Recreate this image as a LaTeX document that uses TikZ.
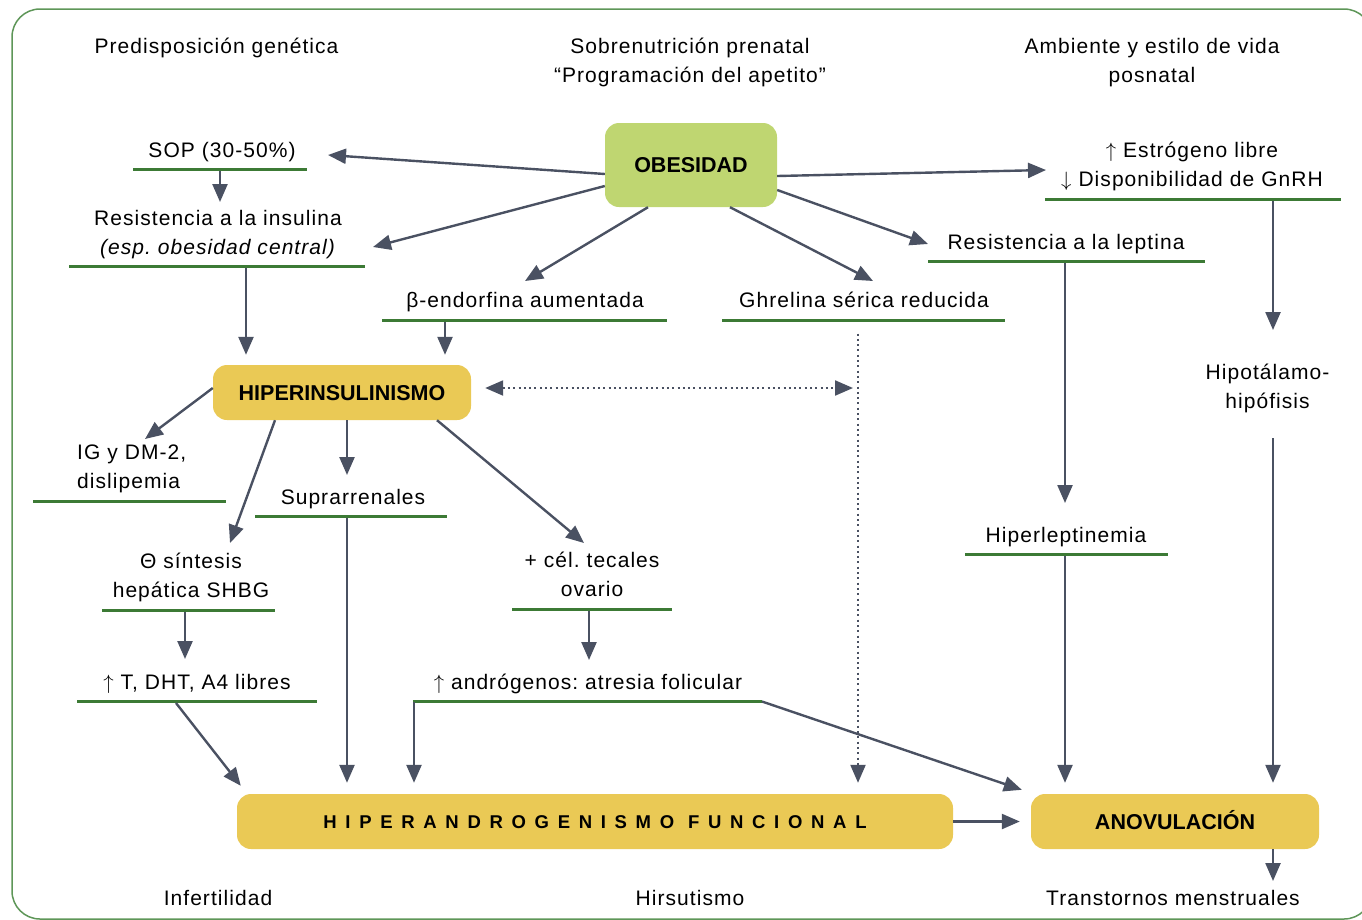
\documentclass[tikz,border=0pt]{standalone}
\usepackage{fontspec}
\setmainfont{Liberation Sans}
\newfontfamily\labfont{Liberation Sans}[LetterSpace=5]
\newfontfamily\widefont{Liberation Sans}[LetterSpace=47]
\usetikzlibrary{arrows.meta,calc}
\definecolor{arrowgray}{HTML}{4A5162}
\definecolor{ulgreen}{HTML}{3C7A35}
\definecolor{framegreen}{HTML}{5E9658}
\definecolor{boxyellow}{HTML}{EAC955}
\definecolor{boxgreen}{HTML}{BFD671}
\newcommand{\upar}{\ensuremath{\uparrow}}
\newcommand{\dnar}{\ensuremath{\downarrow}}
\frenchspacing
\begin{document}
\begin{tikzpicture}[x=1pt,y=-1pt,
  labtxt/.style={font={\labfont\frenchspacing\fontsize{21}{29}\selectfont}, inner sep=0pt, anchor=base, text=black},
  mlabtxt/.style={labtxt, align=center, text width=#1},
  ulbar/.style={fill=ulgreen, inner sep=0pt, outer sep=0pt, minimum height=3pt, minimum width=#1},
  boxnode/.style={rounded corners=14pt, inner sep=0pt, text height=15pt, text depth=0pt,
     font={\bfseries\fontsize{21.5}{25}\selectfont}},
  conn/.style={draw=arrowgray, line width=2.4pt, -{Triangle[length=18pt,width=15pt]}},
  dotconn/.style={draw=arrowgray, line width=2.2pt, dash pattern=on 2pt off 3.3pt},
  tipA/.style={-{Triangle[length=18pt,width=15pt]}},
  tipB/.style={{Triangle[length=18pt,width=15pt]}-{Triangle[length=18pt,width=15pt]}}
]
\useasboundingbox (0,0) rectangle (1362,919);
\begin{scope}
\clip (0,0) rectangle (1362,919);
\draw[framegreen, line width=1.5pt, rounded corners=28pt] (12,9) rectangle (1372,919);
\end{scope}

% top row
\node[labtxt] (gen) at (216.5,53) {Predisposición genética};
\node[mlabtxt=340] (pren) at (690,53) {Sobrenutrición prenatal\\“Programación del apetito”};
\node[mlabtxt=300] (amb) at (1152,53) {Ambiente y estilo de vida\\posnatal};

% boxes
\node[boxnode, fill=boxgreen, minimum width=172pt, minimum height=84pt] (obes) at (691,165) {OBESIDAD};
\node[boxnode, fill=boxyellow, minimum width=258pt, minimum height=55pt] (hiper) at (342,392.5) {HIPERINSULINISMO};
\node[boxnode, fill=boxyellow, minimum width=716pt, minimum height=55pt, text height=13.3pt,
      font={\widefont\bfseries\fontsize{18.5}{22}\selectfont}] (haf) at (595,821.5) {HIPERANDROGENISMO FUNCIONAL};
\node[boxnode, fill=boxyellow, minimum width=288pt, minimum height=55pt] (anov) at (1175,821.5) {ANOVULACIÓN};

% labels with underlines
\node[labtxt] (sop) at (222,157) {SOP (30-50\%)};
\node[ulbar=174pt] (sopU) at (220,169) {};
\node[mlabtxt=300] (ri) at (218,225) {Resistencia a la insulina\\\textit{(esp. obesidad central)}};
\node[ulbar=296pt] (riU) at (217,266) {};
\node[labtxt] (beta) at (525,307) {β-endorfina aumentada};
\node[ulbar=285pt] (betaU) at (524.5,320) {};
\node[labtxt] (ghr) at (864,307) {Ghrelina sérica reducida};
\node[ulbar=283pt] (ghrU) at (863.5,320) {};
\node[mlabtxt=300] (est) at (1192,157) {\upar\ Estrógeno libre\\\dnar\ Disponibilidad de GnRH};
\node[ulbar=296pt] (estU) at (1193,199) {};
\node[labtxt] (lep) at (1066,249) {Resistencia a la leptina};
\node[ulbar=277pt] (lepU) at (1066.5,261) {};
\node[mlabtxt=160] (hipo) at (1267.5,379) {Hipotálamo-\\hipófisis};
\node[labtxt] (hlep) at (1066,542) {Hiperleptinemia};
\node[ulbar=203pt] (hlepU) at (1066.5,554) {};
\node[mlabtxt=150, align=left, anchor=base west] (ig) at (77,459) {IG y DM-2,\\dislipemia};
\node[ulbar=193pt] (igU) at (129.5,501) {};
\node[labtxt] (sup) at (353,504) {Suprarrenales};
\node[ulbar=192pt] (supU) at (351,516) {};
\node[mlabtxt=200] (shbg) at (191,568) {Θ síntesis\\hepática SHBG};
\node[ulbar=173pt] (shbgU) at (188.5,610) {};
\node[mlabtxt=180] (tec) at (592,567) {+ cél. tecales\\ovario};
\node[ulbar=160pt] (tecU) at (592,609) {};
\node[labtxt] (tdht) at (197,689) {\upar\ T, DHT, A4 libres};
\node[ulbar=240pt] (tdhtU) at (197,701.5) {};
\node[labtxt] (andr) at (588,689) {\upar\ andrógenos: atresia folicular};
\node[ulbar=349pt] (andrU) at (587.5,701.5) {};

% bottom row
\node[labtxt] (inf) at (218,905) {Infertilidad};
\node[labtxt] (hirs) at (690,905) {Hirsutismo};
\node[labtxt] (trans) at (1173,905) {Transtornos menstruales};

% connectors from OBESIDAD
\draw[conn] ($(obes.west)+(0,9)$) -- ($(sopU.east)+(21,-14)$);
\draw[conn] ($(obes.west)+(0,21)$) -- ($(riU.east)+(8,-19)$);
\draw[conn] ($(obes.south)+(-43,0)$) -- ($(betaU.north)+(0.5,-37.5)$);
\draw[conn] ($(obes.south)+(39,0)$) -- ($(ghrU.north)+(9.5,-37.5)$);
\draw[conn] ($(obes.east)+(0,11)$) -- ($(estU.west)+(1,-29)$);
\draw[conn] ($(obes.east)+(0,25)$) -- ($(lepU.west)+(0,-17)$);

% left column
\draw[conn] (sopU.south) -- ($(riU.north)+(3,-62.5)$);
\draw[conn] ($(riU.south)+(29,0)$) -- ($(hiper.north)+(-96,-10)$);
\draw[conn] ($(betaU.south)+(-79.5,0)$) -- ($(hiper.north)+(103,-10)$);

% dotted
\draw[dotconn, tipB] ($(hiper.east)+(14,-4.5)$) -- ($(ghrU.south)+(-10.5,66.5)$);
\draw[dotconn, tipA] ($(ghrU.south)+(-5.5,12)$) -- ($(haf.north)+(263,-11)$);

% from HIPERINSULINISMO
\draw[conn] ($(hiper.west)+(0,-4.5)$) -- ($(igU.north)+(15.5,-60.5)$);
\draw[conn] ($(hiper.south)+(-67,0)$) -- ($(shbgU.north)+(41.5,-65.5)$);
\draw[conn] ($(hiper.south)+(5,0)$) -- ($(supU.north)+(-4,-39.5)$);
\draw[conn] ($(hiper.south)+(95,0)$) -- ($(tecU.north)+(-8,-64.5)$);

\draw[conn] ($(shbgU.south)+(-3.5,0)$) -- ($(tdhtU.north)+(-12,-41)$);
\draw[conn] ($(tecU.south)+(-3,0)$) -- ($(andrU.north)+(1.5,-40)$);

% into HIPERANDROGENISMO
\draw[conn] ($(supU.south)+(-4,0)$) -- ($(haf.north)+(-248,-11)$);
\draw[conn] ($(tdhtU.south)+(-21,0)$) -- ($(haf.north west)+(4,-8)$);
\draw[conn] ($(andrU.west)+(1,0)$) -- ($(haf.north)+(-181,-11)$);

% into ANOVULACION
\draw[conn] (andrU.east) -- ($(anov.north west)+(-9,-4)$);
\draw[conn] (haf.east) -- ($(anov.west)+(-11,0)$);
\draw[conn] ($(lepU.south)+(-1.5,0)$) -- ($(hlepU.north)+(-1.5,-49.5)$);
\draw[conn] ($(hlepU.south)+(-1.5,0)$) -- ($(anov.north)+(-110,-11)$);
\draw[conn] ($(estU.south)+(80,0)$) -- ($(hipo.base)+(5.5,-49)$);
\draw[conn] ($(hipo.base)+(5.5,59)$) -- ($(anov.north)+(98,-11)$);
\draw[conn] ($(anov.south)+(98,0)$) -- ($(trans.base)+(100,-24)$);
\end{tikzpicture}
\end{document}
